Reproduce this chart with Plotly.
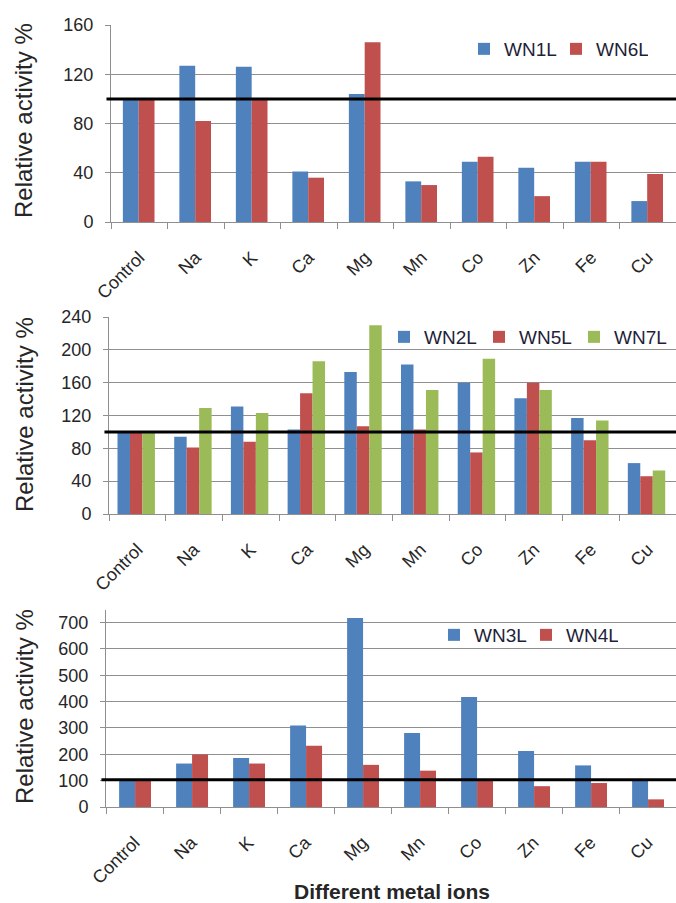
import plotly.graph_objects as go

metals = ["Control", "Na", "K", "Ca", "Mg", "Mn", "Co", "Zn", "Fe", "Cu"]

# Panel 1
wn1l = [100, 127, 126, 41, 104, 33, 49, 44, 49, 17]
wn6l = [100, 82, 99, 36, 146, 30, 53, 21, 49, 39]
# Panel 2
wn2l = [100, 94, 131, 103, 173, 182, 160, 141, 117, 62]
wn5l = [100, 81, 88, 147, 107, 103, 75, 160, 90, 46]
wn7l = [100, 129, 123, 186, 230, 151, 189, 151, 114, 53]
# Panel 3
wn3l = [100, 165, 186, 309, 718, 281, 418, 213, 158, 101]
wn4l = [100, 199, 165, 233, 160, 138, 101, 79, 91, 29]

ticks1 = [0, 40, 80, 120, 160]
ticks2 = [0, 40, 80, 120, 160, 200, 240]
ticks3 = [0, 100, 200, 300, 400, 500, 600, 700]
ref_level = [100, 100, 103]

BLUE = "#4F81BD"
RED = "#C0504D"
GREEN = "#9BBB59"
FONT = "Liberation Sans, Arial, sans-serif"
TXT = "#262626"
GRID = "#8f8f8f"

W, H = 676, 903

fig = go.Figure()

def add_bar(y, name, color, xa, ya, legend, offset, width):
    fig.add_trace(go.Bar(
        x=metals, y=y, name=name, marker=dict(color=color, line=dict(width=0)),
        xaxis=xa, yaxis=ya, legend=legend, offset=offset, width=width,
    ))

add_bar(wn1l, "WN1L", BLUE, "x", "y", "legend", -0.29, 0.28)
add_bar(wn6l, "WN6L", RED, "x", "y", "legend", -0.01, 0.28)

add_bar(wn2l, "WN2L", BLUE, "x2", "y2", "legend2", -0.35, 0.22)
add_bar(wn5l, "WN5L", RED, "x2", "y2", "legend2", -0.13, 0.22)
add_bar(wn7l, "WN7L", GREEN, "x2", "y2", "legend2", 0.09, 0.22)

add_bar(wn3l, "WN3L", BLUE, "x3", "y3", "legend3", -0.27, 0.28)
add_bar(wn4l, "WN4L", RED, "x3", "y3", "legend3", 0.01, 0.28)

def px_x(p):
    return p / W

def px_y(p):
    return 1 - p / H

xcommon = dict(
    type="category", showline=True, linecolor=GRID, linewidth=1,
    ticks="outside", ticklen=6, tickcolor=GRID, tickson="boundaries",
    tickangle=-45, tickfont=dict(family=FONT, size=18, color=TXT),
    showgrid=False, zeroline=False, ticklabelstandoff=17, automargin=False,
)
ycommon = dict(
    showline=True, linecolor=GRID, linewidth=1, ticks="outside", ticklen=5,
    tickcolor=GRID, showgrid=True, gridcolor=GRID, gridwidth=1,
    zeroline=False, tickfont=dict(family=FONT, size=18, color=TXT),
    ticklabelstandoff=8, automargin=False,
)

legcommon = dict(orientation="h", xanchor="right", yanchor="middle",
                 font=dict(family=FONT, size=19, color="#1f1f3a"),
                 bgcolor="rgba(0,0,0,0)", itemwidth=30,
                 entrywidthmode="pixels")

fig.update_layout(
    width=W, height=H,
    margin=dict(l=0, r=0, t=0, b=0),
    paper_bgcolor="white", plot_bgcolor="white",
    barmode="overlay",
    xaxis=dict(xcommon, domain=[px_x(111), 1], anchor="y"),
    yaxis=dict(ycommon, domain=[px_y(222), px_y(25)], range=[0, 160],
               tickvals=ticks1, anchor="x"),
    xaxis2=dict(xcommon, domain=[px_x(109), 1], anchor="y2"),
    yaxis2=dict(ycommon, domain=[px_y(514), px_y(317)], range=[0, 240],
                tickvals=ticks2, anchor="x2"),
    xaxis3=dict(xcommon, domain=[px_x(106), 1], anchor="y3"),
    yaxis3=dict(ycommon, domain=[px_y(807), px_y(610)], range=[0, 748],
                tickvals=ticks3, anchor="x3"),
    legend=dict(legcommon, x=px_x(648), y=px_y(49), entrywidth=47),
    legend2=dict(legcommon, x=px_x(669), y=px_y(337), entrywidth=50),
    legend3=dict(legcommon, x=px_x(618), y=px_y(635), entrywidth=47),
)

for i, (ya, lvl) in enumerate(zip(["y", "y2", "y3"], ref_level)):
    xa = ["x", "x2", "x3"][i]
    fig.add_shape(type="line", xref=f"{xa} domain", yref=ya, x0=-0.008, x1=1,
                  y0=lvl, y1=lvl, line=dict(color="black", width=3), layer="above")

for yc in [121, 415, 707]:
    fig.add_annotation(text="Relative activity %", textangle=-90, x=px_x(24),
                       y=px_y(yc), xref="paper", yref="paper", showarrow=False,
                       xanchor="center", yanchor="middle",
                       font=dict(family=FONT, size=24, color=TXT))

fig.add_annotation(text="Different metal ions", x=px_x(392), y=px_y(891),
                   xref="paper", yref="paper", showarrow=False,
                   xanchor="center", yanchor="middle",
                   font=dict(family=FONT, size=21, color=TXT, weight="bold"))

fig.write_html("out.html", config={"displayModeBar": False},
               post_script="document.body.style.margin='0';document.body.style.overflow='hidden';")
